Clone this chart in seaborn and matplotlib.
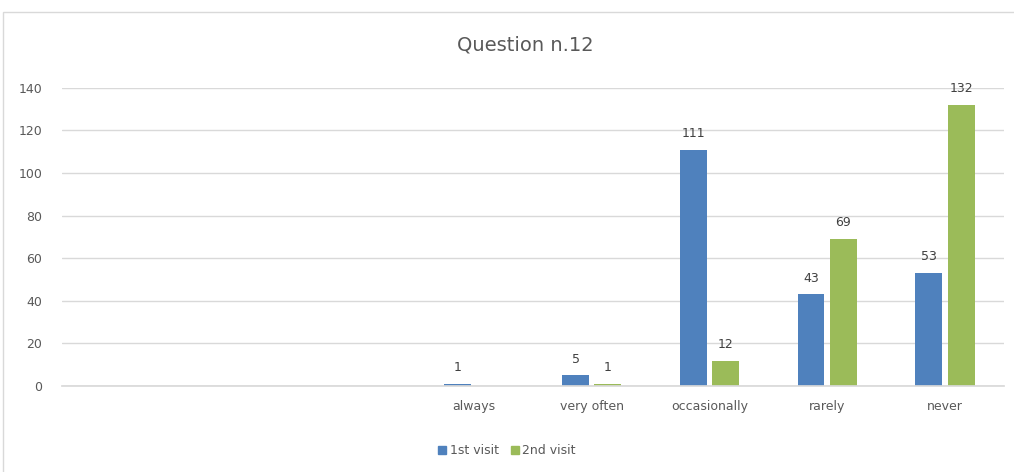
import numpy as np
import pandas as pd
import seaborn as sns
import matplotlib.pyplot as plt
from matplotlib.patches import Rectangle

sns.set_theme(style="white")
plt.rcParams['font.family'] = ['Liberation Sans Narrow', 'DejaVu Sans']

# Question 12 answers (three empty slots on the left, as in the original sheet)
slots = ["s1", "s2", "s3", "always", "very often", "occasionally", "rarely", "never"]
slot_labels = ["", "", "", "always", "very often", "occasionally", "rarely", "never"]
first_visit = [np.nan, np.nan, np.nan, 1, 5, 111, 43, 53]
second_visit = [np.nan, np.nan, np.nan, np.nan, 1, 12, 69, 132]
series = ["1st visit", "2nd visit"]
colors = ["#4F81BD", "#9BBB59"]

df = pd.DataFrame({
    "answer": slots * 2,
    "count": first_visit + second_visit,
    "visit": [series[0]] * len(slots) + [series[1]] * len(slots),
})

fig = plt.figure(figsize=(10.14, 4.72), dpi=100)
ax = fig.add_axes([0.061, 0.182, 0.929, 0.632])

sns.barplot(data=df, x="answer", y="count", hue="visit", order=slots,
            hue_order=series, palette=colors, width=0.55, gap=0.17,
            saturation=1, legend=False, linewidth=0, ax=ax)

# value labels above bars
for cont in ax.containers:
    for bar in cont:
        h = bar.get_height()
        if np.isnan(h):
            continue
        ax.annotate(f"{int(h)}", (bar.get_x() + bar.get_width() / 2, h),
                    xytext=(0, 7), textcoords="offset points",
                    ha="center", va="bottom", fontsize=9, color="#404040")

ax.set_ylim(0, 140)
ax.set_yticks(range(0, 141, 20))
ax.set_xlim(-0.5, len(slots) - 0.5)
ax.set_xticks(range(len(slots)))
ax.set_xticklabels(slot_labels)
ax.tick_params(axis="both", length=0, labelsize=9, labelcolor="#595959")
ax.tick_params(axis="x", pad=10)
ax.tick_params(axis="y", pad=14)
ax.yaxis.grid(True, color="#D9D9D9", linewidth=1)
ax.set_axisbelow(True)
for s in ["top", "right", "left"]:
    ax.spines[s].set_visible(False)
ax.spines["bottom"].set_color("#D9D9D9")
ax.set_xlabel("")
ax.set_ylabel("")

fig.text(0.518, 0.905, "Question n.12", ha="center", va="center",
         fontsize=14, color="#595959")

handles = [Rectangle((0, 0), 1, 1, color=c) for c in colors]
fig.legend(handles, series, loc="center", bbox_to_anchor=(0.5, 0.045), ncol=2,
           frameon=False, fontsize=9, labelcolor="#595959",
           handlelength=0.6, handleheight=0.6, handletextpad=0.3,
           columnspacing=1.0)

# chart frame
fig.patches.append(Rectangle((0.003, -0.02), 1.2, 0.995, transform=fig.transFigure,
                             fill=False, edgecolor="#D9D9D9", linewidth=1))

fig.savefig("out.png", dpi=100)
